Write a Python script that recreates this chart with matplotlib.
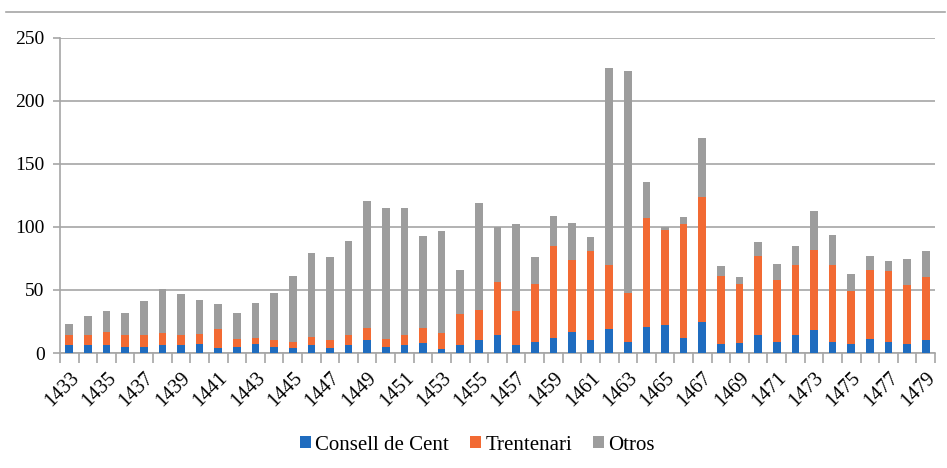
import numpy as np
import matplotlib.pyplot as plt
from matplotlib.lines import Line2D

# years 1433-1479
years = list(range(1433, 1480))

consell = [6, 6, 6, 5, 5, 6, 6, 7, 4, 5, 7, 5, 4, 6, 4, 6, 10, 5, 6, 8,
           3, 6, 10, 14, 6, 9, 12, 17, 10, 19, 9, 21, 22, 12, 25, 7, 8, 14,
           9, 14, 18, 9, 7, 11, 9, 7, 10]
trentenari = [8, 8, 11, 9, 9, 10, 8, 8, 15, 6, 5, 5, 5, 7, 6, 8, 10, 6, 8, 12,
              13, 25, 24, 42, 27, 46, 73, 57, 71, 51, 39, 86, 76, 90, 99, 54, 47, 63,
              49, 56, 64, 61, 42, 55, 56, 47, 50]
otros = [9, 15, 16, 18, 27, 35, 33, 27, 20, 21, 28, 38, 52, 66, 66, 75, 101, 104, 101, 73,
         81, 35, 85, 44, 69, 21, 24, 29, 11, 156, 176, 29, 2, 6, 47, 8, 5, 11,
         13, 15, 31, 24, 14, 11, 8, 21, 21]

c_blue = '#1f6cbf'
c_orange = '#f26a33'
c_gray = '#9d9d9d'
axis_gray = '#a6a6a6'

plt.rcParams['font.family'] = ['Liberation Serif', 'DejaVu Serif']

fig = plt.figure(figsize=(9.47, 4.68), dpi=100)
ax = fig.add_axes([60 / 947, 1 - 353 / 468, 875 / 947, 315 / 468])

x = np.arange(len(years))
w = 0.41
b1 = np.array(consell)
b2 = b1 + np.array(trentenari)
ax.bar(x, consell, w, color=c_blue, label='Consell de Cent', zorder=3)
ax.bar(x, trentenari, w, bottom=b1, color=c_orange, label='Trentenari', zorder=3)
ax.bar(x, otros, w, bottom=b2, color=c_gray, label='Otros', zorder=3)

ax.set_xlim(-0.5, len(years) - 0.5)
ax.set_ylim(0, 250)
ax.set_yticks(range(0, 251, 50))
ax.yaxis.grid(True, color=axis_gray, linewidth=1.2, zorder=0)

# year labels every other bar, tick marks between categories
ax.set_xticks(x[::2])
ax.set_xticklabels([str(y) for y in years[::2]], rotation=45, ha='right',
                   rotation_mode='anchor', fontsize=14.5)
ax.set_xticks(np.arange(-0.5, len(years), 1), minor=True)
ax.tick_params(axis='x', which='major', length=0, pad=11)
ax.tick_params(axis='x', which='minor', length=7, color=axis_gray, width=1.2)
ax.tick_params(axis='y', length=5, color=axis_gray, width=1.2, labelsize=14, pad=6)

for side in ['top', 'right']:
    ax.spines[side].set_visible(False)
for side in ['left', 'bottom']:
    ax.spines[side].set_color(axis_gray)
    ax.spines[side].set_linewidth(1.2)

fig.legend(loc='center', bbox_to_anchor=(0.504, 1 - 445 / 468), ncol=3,
           frameon=False, fontsize=15, handlelength=0.55, handleheight=0.55,
           handletextpad=0.2, columnspacing=1.0)

# thin rule across the top of the figure
fig.add_artist(Line2D([6 / 947, 945 / 947], [1 - 12 / 468, 1 - 12 / 468],
                      color=axis_gray, linewidth=1.2))

fig.savefig('out.png', dpi=100)
